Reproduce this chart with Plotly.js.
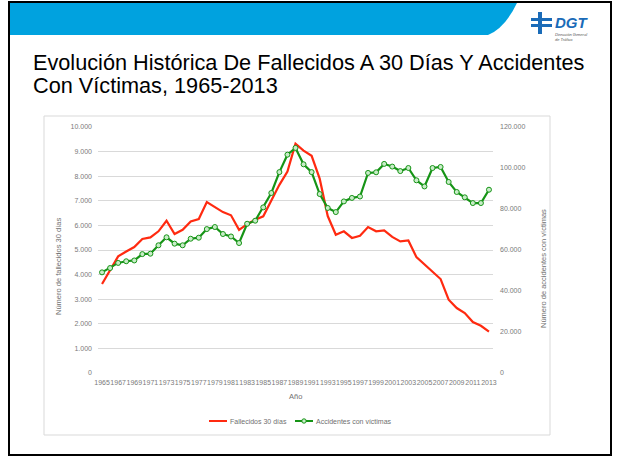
<!DOCTYPE html>
<html>
<head>
<meta charset="utf-8">
<script src="https://cdn.plot.ly/plotly-3.0.1.min.js"></script>
<style>html,body{margin:0;padding:0;background:#fff;}#chart{width:619px;height:461px;}</style>
</head>
<body>
<div id="chart"></div>
<script>
// ---- data ----
const years = [1965,1966,1967,1968,1969,1970,1971,1972,1973,1974,1975,1976,1977,1978,1979,1980,1981,1982,1983,1984,1985,1986,1987,1988,1989,1990,1991,1992,1993,1994,1995,1996,1997,1998,1999,2000,2001,2002,2003,2004,2005,2006,2007,2008,2009,2010,2011,2012,2013];
const fallecidos = [3620,4200,4740,4940,5120,5450,5510,5760,6190,5650,5820,6160,6260,6950,6750,6540,6410,5820,6050,6230,6370,6990,7650,8190,9320,9040,8830,7900,6380,5620,5760,5490,5580,5930,5760,5800,5530,5350,5390,4710,4400,4090,3820,2980,2640,2440,2070,1920,1680];
const accidentes = [49100,51200,53700,54500,54900,58000,58200,62300,66200,63100,62300,65500,66000,70200,71200,67800,66600,63400,72800,74300,80800,87800,98000,106500,109800,101800,98000,87300,80500,78500,83700,85400,86100,97600,97900,102000,100700,98500,100000,94000,91000,100000,100500,93200,88300,85700,82900,82900,89400];
const xTickYears = [1965,1967,1969,1971,1973,1975,1977,1979,1981,1983,1985,1987,1989,1991,1993,1995,1997,1999,2001,2003,2005,2007,2009,2011,2013];
const leftTicks = [0,1000,2000,3000,4000,5000,6000,7000,8000,9000,10000];
const rightTicks = [0,20000,40000,60000,80000,100000,120000];
const seriesNames = ["Fallecidos 30 días", "Accidentes con víctimas"];
const titleLines = ["Evolución Histórica De Fallecidos A 30 Días Y Accidentes", "Con Víctimas, 1965-2013"];

// ---- pixel helpers for decorations ----
const L = 98, W = 395, B = 373, H = 246;
const px = x => (x - L) / W;
const py = y => (B - y) / H;

const redColor = "#ff2a10", greenColor = "#169416";
const tickFont = {family: "Liberation Sans, Arial, sans-serif", size: 7, color: "#7a7a7a"};
const axTitleFont = {family: "Liberation Sans, Arial, sans-serif", size: 7.5, color: "#6f6f6f"};
const legFont = {family: "Liberation Sans, Arial, sans-serif", size: 7, color: "#6f6f6f"};
const titleFont = {family: "Liberation Sans, Arial, sans-serif", size: 21.7, color: "#000"};

const traces = [
  {x: years, y: fallecidos, name: seriesNames[0], type: "scatter", mode: "lines",
   line: {color: redColor, width: 2.2}, yaxis: "y"},
  {x: years, y: accidentes, name: seriesNames[1], type: "scatter", mode: "lines+markers",
   line: {color: greenColor, width: 2.2},
   marker: {symbol: "circle", size: 5, color: "#c8ecc8", line: {color: greenColor, width: 1}},
   yaxis: "y2"}
];

const band = `M ${px(10)} ${py(3)} L ${px(517)} ${py(3)} Q ${px(505)} ${py(28)} ${px(488)} ${py(35)} L ${px(10)} ${py(35)} Z`;

const shapes = [
  {type: "rect", xref: "paper", yref: "paper", x0: px(9), x1: px(611), y0: py(455), y1: py(2),
   line: {color: "#000", width: 2}, fillcolor: "rgba(0,0,0,0)", layer: "below"},
  {type: "path", xref: "paper", yref: "paper", path: band, fillcolor: "#00a2df", line: {width: 0}, layer: "below"},
  {type: "rect", xref: "paper", yref: "paper", x0: px(44), x1: px(550), y0: py(435), y1: py(116),
   line: {color: "#d9d9d9", width: 1}, fillcolor: "rgba(0,0,0,0)", layer: "below"},
  // DGT logo icon
  {type: "rect", xref: "paper", yref: "paper", x0: px(531), x1: px(552), y0: py(21), y1: py(18), fillcolor: "#1a6bb8", line: {width: 0}},
  {type: "rect", xref: "paper", yref: "paper", x0: px(531), x1: px(552), y0: py(27), y1: py(24), fillcolor: "#1a6bb8", line: {width: 0}},
  {type: "rect", xref: "paper", yref: "paper", x0: px(538), x1: px(542), y0: py(34), y1: py(12), fillcolor: "#1a6bb8", line: {width: 0}},
  // manual legend keys
  {type: "line", xref: "paper", yref: "paper", x0: px(209), x1: px(227), y0: py(421), y1: py(421), line: {color: redColor, width: 2}},
  {type: "line", xref: "paper", yref: "paper", x0: px(295), x1: px(313), y0: py(421), y1: py(421), line: {color: greenColor, width: 2}},
  {type: "circle", xref: "paper", yref: "paper", x0: px(301.8), x1: px(306.2), y0: py(423.2), y1: py(418.8),
   fillcolor: "#c8ecc8", line: {color: greenColor, width: 1}}
];

const annotations = [
  {text: titleLines[0], xref: "paper", yref: "paper", x: px(31), y: py(62), xanchor: "left", yanchor: "middle",
   align: "left", showarrow: false, font: titleFont},
  {text: titleLines[1], xref: "paper", yref: "paper", x: px(31), y: py(86), xanchor: "left", yanchor: "middle",
   align: "left", showarrow: false, font: titleFont},
  {text: "<b><i>DGT</i></b>", xref: "paper", yref: "paper", x: px(553), y: py(23), xanchor: "left", yanchor: "middle",
   showarrow: false, font: {family: "Liberation Sans, Arial, sans-serif", size: 15, color: "#1a6bb8"}},
  {text: "<i>Dirección General<br>de Tráfico</i>", xref: "paper", yref: "paper", x: px(553), y: py(37), xanchor: "left", yanchor: "middle",
   align: "left", showarrow: false, font: {family: "Liberation Sans, Arial, sans-serif", size: 4, color: "#555"}},
  {text: "Número de fallecidos 30 días", xref: "paper", yref: "paper", x: px(58), y: py(267), textangle: -90,
   xanchor: "center", yanchor: "middle", showarrow: false, font: axTitleFont},
  {text: "Número de accidentes con víctimas", xref: "paper", yref: "paper", x: px(543), y: py(269), textangle: -90,
   xanchor: "center", yanchor: "middle", showarrow: false, font: axTitleFont},
  {text: "Año", xref: "paper", yref: "paper", x: px(295.5), y: py(396), xanchor: "center", yanchor: "middle",
   showarrow: false, font: axTitleFont},
  {text: seriesNames[0], xref: "paper", yref: "paper", x: px(228), y: py(421), xanchor: "left", yanchor: "middle",
   showarrow: false, font: legFont},
  {text: seriesNames[1], xref: "paper", yref: "paper", x: px(314), y: py(421), xanchor: "left", yanchor: "middle",
   showarrow: false, font: legFont}
];

const layout = {
  width: 619, height: 461,
  margin: {l: 98, r: 126, t: 127, b: 88},
  paper_bgcolor: "#fff", plot_bgcolor: "#fff",
  separators: ",.",
  showlegend: false,
  xaxis: {range: [1964.5, 2013.5], tickmode: "array", tickvals: xTickYears, ticktext: xTickYears.map(String),
          tickangle: 0, showgrid: false, zeroline: false, showline: false, ticks: "", ticklabelstandoff: 4,
          tickfont: tickFont, fixedrange: true},
  yaxis: {range: [0, 10000], tickmode: "array", tickvals: leftTicks, tickformat: ",d",
          showgrid: true, gridcolor: "#d9d9d9", gridwidth: 1, zeroline: false, showline: false, ticks: "",
          ticklabelstandoff: 5, tickfont: tickFont},
  yaxis2: {range: [0, 120000], overlaying: "y", side: "right", tickmode: "array", tickvals: rightTicks,
           tickformat: ",d", showgrid: false, zeroline: false, showline: false, ticks: "",
           ticklabelstandoff: 6, tickfont: tickFont},
  shapes: shapes,
  annotations: annotations
};

Plotly.newPlot("chart", traces, layout, {staticPlot: true, displayModeBar: false});
</script>
</body>
</html>
